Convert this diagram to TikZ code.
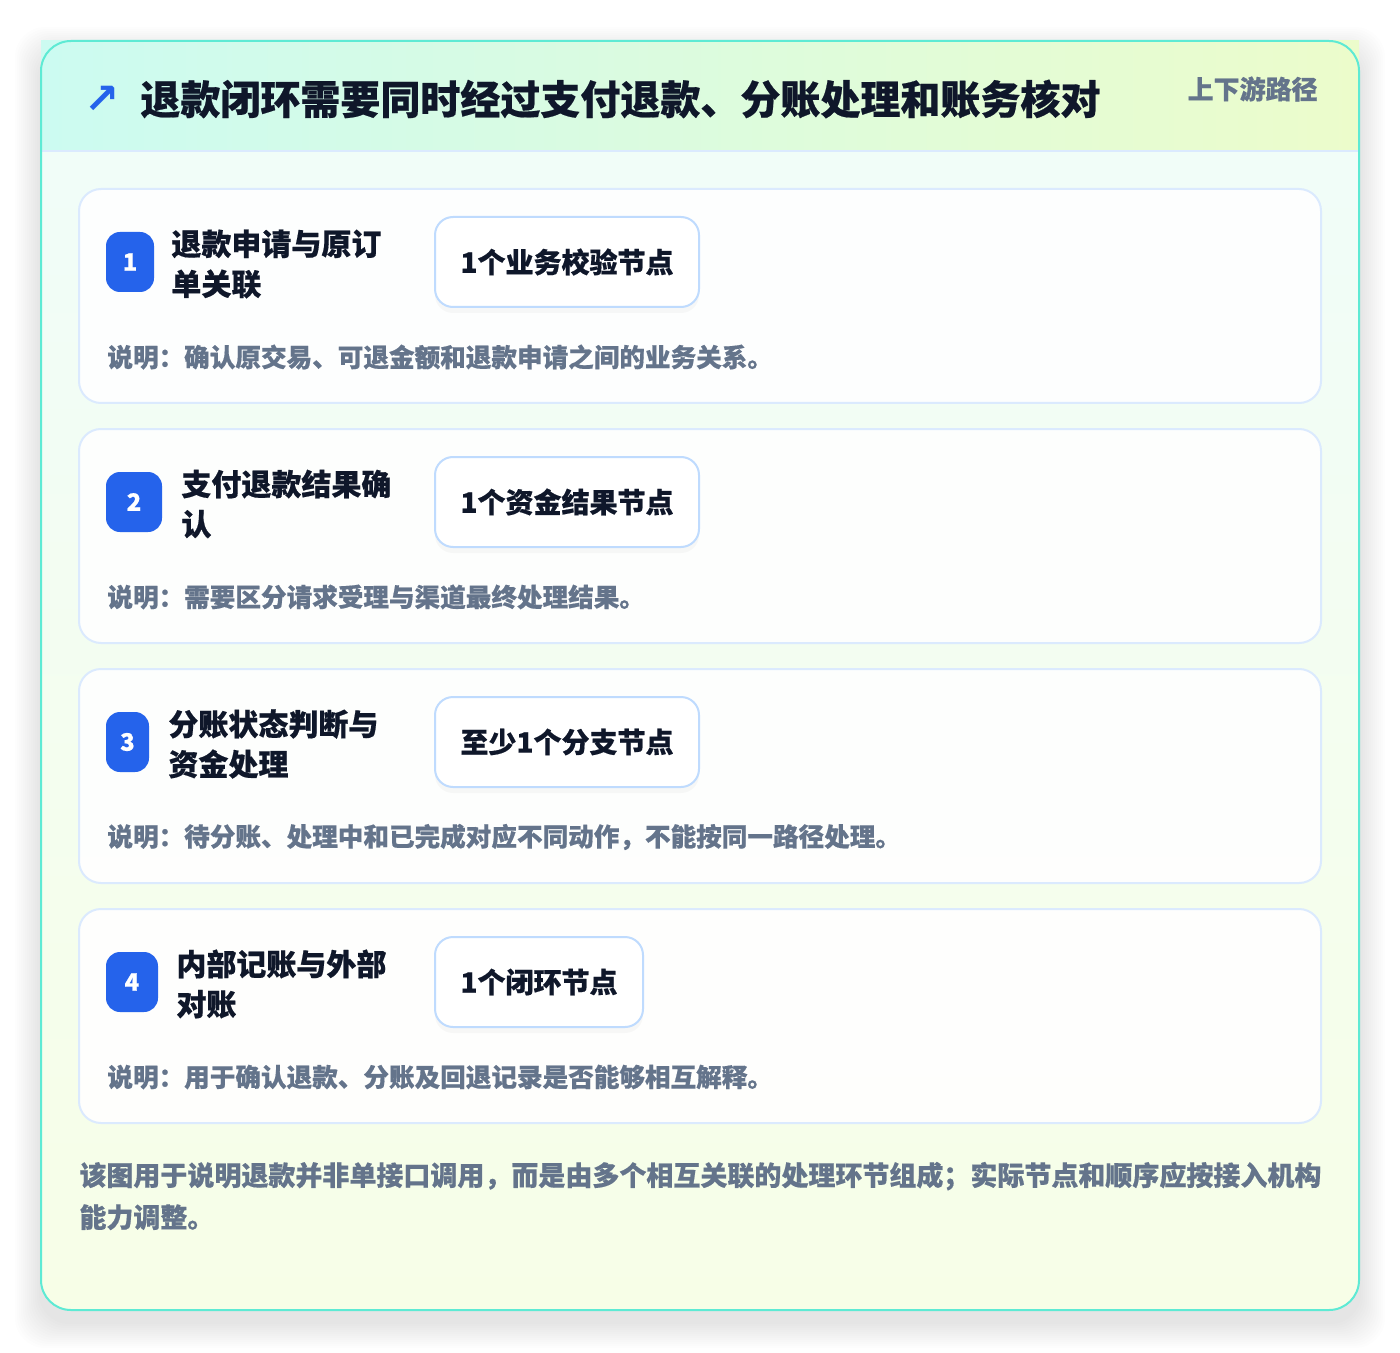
\documentclass[tikz,border=0pt]{standalone}
\usepackage{fontspec}
\setmainfont{Noto Sans CJK SC}[BoldFeatures={FakeBold=0.5}]
\newfontfamily\symfont{DejaVu Sans}
\usetikzlibrary{positioning,shadows}

\definecolor{rimteal}{HTML}{5EEAD4}
\definecolor{headl}{HTML}{CCFBF1}
\definecolor{headr}{HTML}{ECFCCB}
\definecolor{bodytop}{HTML}{F0FDFA}
\definecolor{bodybot}{HTML}{F7FEE7}
\definecolor{line}{HTML}{DBEAFE}
\definecolor{chipline}{HTML}{BFDBFE}
\definecolor{accent}{HTML}{2563EB}
\definecolor{ink}{HTML}{0F172A}
\definecolor{slate}{HTML}{64748B}

\begin{document}
\begin{tikzpicture}[x=0.5pt,y=-0.5pt]
		\tikzstyle{card}=[draw=line, line width=1pt, fill=white, fill opacity=0.9, rounded corners=11pt, minimum width=621pt, minimum height=107pt, inner sep=0pt]
		\tikzstyle{badge}=[fill=accent, text=white, font=\bfseries\fontsize{12}{14}\selectfont, rounded corners=7pt, minimum height=30pt, inner sep=0pt]
		\tikzstyle{ttl}=[text=ink, font=\bfseries\fontsize{15}{20}\selectfont, align=left, anchor=west, inner sep=0pt]
		\tikzstyle{chip}=[draw=chipline, line width=1pt, fill=white, rounded corners=9pt, minimum height=45pt, inner sep=0pt, text=ink, font=\bfseries\fontsize{14}{16}\selectfont, drop shadow={opacity=0.05, shadow xshift=0pt, shadow yshift=-3pt}]
		\tikzstyle{desc}=[text=slate, font=\bfseries\fontsize{12.8}{15}\selectfont, anchor=west, inner sep=0pt]

		\useasboundingbox (0,0) rectangle (1400,1352);
		\fill[white] (0,0) rectangle (1400,1352);

		% soft shadow of the panel
		\foreach \s in {2,4,...,26}
			\fill[black, opacity=0.009, rounded corners=15pt] (41-\s,41-\s+12) rectangle (1359+\s,1310+\s+12);

		% panel
		\begin{scope}
			\clip[rounded corners=15pt] (41,41) rectangle (1359,1310);
			\shade[top color=bodytop, bottom color=bodybot] (41,41) rectangle (1359,1310);
		\end{scope}
		\shade[left color=headl, right color=headr] (41,41) rectangle (1359,151);
		\draw[line, line width=1pt] (41,151) -- (1359,151);
		\draw[rimteal, line width=1pt, rounded corners=15pt] (41,41) rectangle (1359,1310);

		\node[text=accent, font=\symfont\bfseries\fontsize{21}{21}\selectfont, inner sep=0pt] (A0) at (102,100) {↗};
		\node[text=ink, font=\bfseries\fontsize{20}{24}\selectfont, anchor=west, inner sep=0pt] (T0) at (140,99) {退款闭环需要同时经过支付退款、分账处理和账务核对};
		\node[text=slate, font=\bfseries\fontsize{13}{15}\selectfont, anchor=east, inner sep=0pt] (H0) at (1318,89) {上下游路径};

		% steps
		\node[card] (C1) at (700,296) {};
		\node[badge, minimum width=24pt] (B1) at (130,262) {1};
		\node[ttl] (T1) at (171,264) {退款申请与原订\\单关联};
		\node[chip, minimum width=132pt] (K1) at (567,262) {1个业务校验节点};
		\node[desc] (D1) at (107,357) {说明：确认原交易、可退金额和退款申请之间的业务关系。};

		\node[card] (C2) at (700,536) {};
		\node[badge, minimum width=28pt] (B2) at (134,502) {2};
		\node[ttl] (T2) at (181,504) {支付退款结果确\\认};
		\node[chip, minimum width=132pt] (K2) at (567,502) {1个资金结果节点};
		\node[desc] (D2) at (107,597) {说明：需要区分请求受理与渠道最终处理结果。};

		\node[card] (C3) at (700,776) {};
		\node[badge, minimum width=21.5pt] (B3) at (127.5,742) {3};
		\node[ttl] (T3) at (168,744) {分账状态判断与\\资金处理};
		\node[chip, minimum width=132pt] (K3) at (567,742) {至少1个分支节点};
		\node[desc] (D3) at (107,837) {说明：待分账、处理中和已完成对应不同动作，不能按同一路径处理。};

		\node[card] (C4) at (700,1016) {};
		\node[badge, minimum width=26pt] (B4) at (132,982) {4};
		\node[ttl] (T4) at (176,984) {内部记账与外部\\对账};
		\node[chip, minimum width=104pt] (K4) at (539,982) {1个闭环节点};
		\node[desc] (D4) at (107,1077) {说明：用于确认退款、分账及回退记录是否能够相互解释。};

		\node[text=slate, font=\bfseries\fontsize{13.5}{21}\selectfont, anchor=west, align=left, inner sep=0pt] (F0) at (79,1196) {该图用于说明退款并非单接口调用，而是由多个相互关联的处理环节组成；实际节点和顺序应按接入机构\\能力调整。};
\end{tikzpicture}
\end{document}
